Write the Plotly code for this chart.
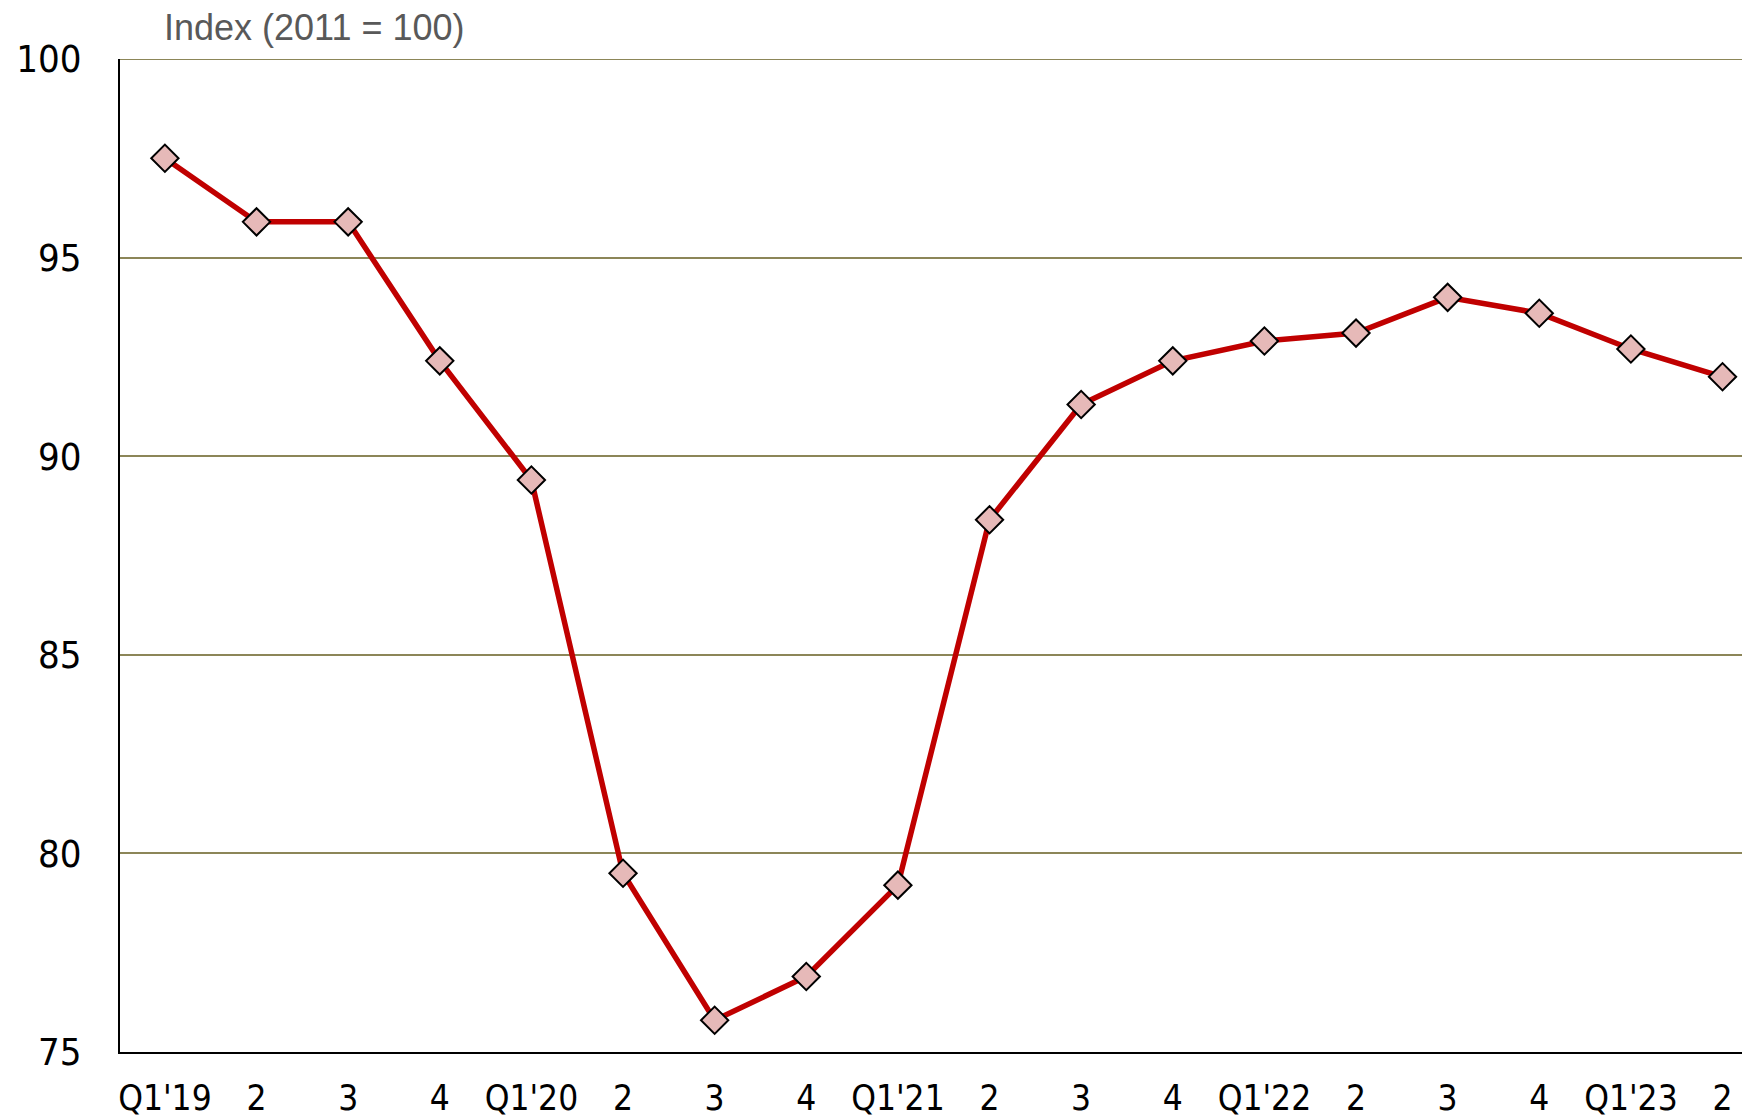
import plotly.graph_objects as go

quarters = ["Q1'19", "2", "3", "4", "Q1'20", "2", "3", "4", "Q1'21", "2", "3", "4",
            "Q1'22", "2", "3", "4", "Q1'23", "2"]
index_values = [97.5, 95.9, 95.9, 92.4, 89.4, 79.5, 75.8, 76.9, 79.2, 88.4, 91.3, 92.4,
                92.9, 93.1, 94.0, 93.6, 92.7, 92.0]
y_ticks = [75, 80, 85, 90, 95, 100]
axis_title = "Index (2011 = 100)"

positions = list(range(len(quarters)))

fig = go.Figure()
fig.add_trace(go.Scatter(
    x=positions, y=index_values, mode="lines+markers",
    line=dict(color="#C00000", width=5.5),
    marker=dict(symbol="diamond", size=21, color="#E6B9B8",
                line=dict(color="black", width=2)),
    cliponaxis=False, showlegend=False,
))

tick_font = dict(family="DejaVu Sans Condensed, Liberation Sans Narrow, sans-serif",
                 size=35, color="black")

# top gridline at 100 (sits on the plot edge)
fig.add_shape(type="line", xref="paper", yref="y", x0=0, x1=1, y0=100, y1=100,
              line=dict(color="#8C8658", width=2), layer="below")

# the page body adds an 8px offset, so the figure is sized to fit the window
fig.update_layout(
    width=1742, height=1110,
    margin=dict(l=112, r=0, t=51, b=66),
    paper_bgcolor="white", plot_bgcolor="white",
    xaxis=dict(
        range=[-0.49, 17.30], tickmode="array", tickvals=positions, ticktext=quarters,
        showgrid=False, zeroline=False, showline=True, linecolor="black", linewidth=2,
        ticks="", tickfont=tick_font, ticklabelstandoff=14, automargin=False,
    ),
    yaxis=dict(
        range=[75, 100], tickmode="array", tickvals=y_ticks,
        showgrid=True, gridcolor="#8C8658", gridwidth=1.5, zeroline=False,
        showline=True, linecolor="black", linewidth=2,
        ticks="", tickfont=dict(tick_font, size=38), ticklabelstandoff=29, automargin=False,
    ),
    annotations=[dict(
        text=axis_title, xref="paper", yref="paper", x=0.0255, y=1.032,
        xanchor="left", yanchor="middle", showarrow=False,
        font=dict(family="Liberation Sans, Arial, sans-serif", size=36, color="#595959"),
    )],
)

fig.write_html("out.html")
